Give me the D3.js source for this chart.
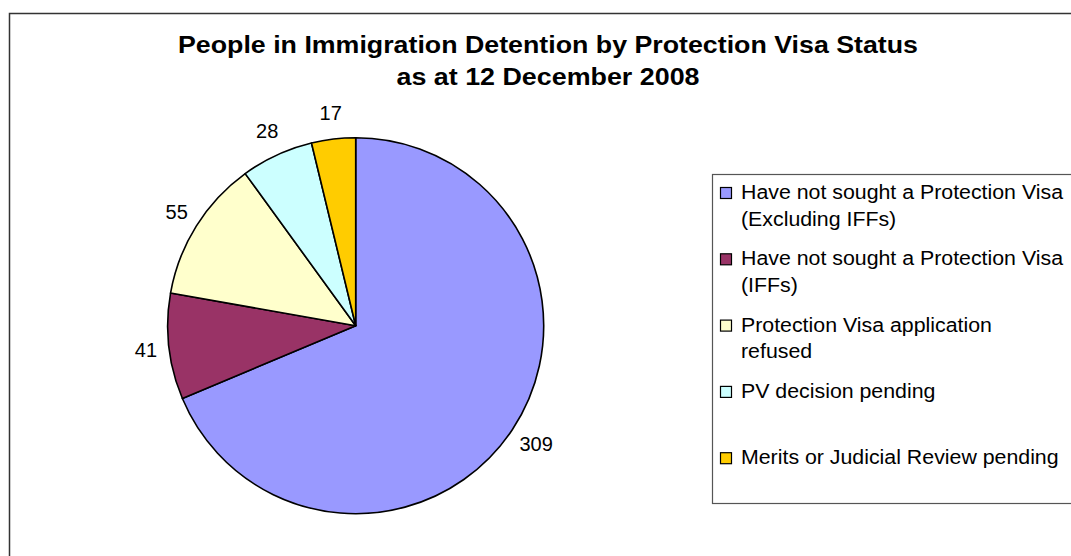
<!DOCTYPE html>
<html>
<head>
<meta charset="utf-8">
<script src="https://cdn.jsdelivr.net/npm/d3@7"></script>
<style>
  html, body { margin: 0; padding: 0; background: #fff; }
  svg { display: block; font-family: Arial, "Liberation Sans", sans-serif; }
</style>
</head>
<body>
<svg id="chart" width="1071" height="556"></svg>
<script>
const titleLines = ["People in Immigration Detention by Protection Visa Status", "as at 12 December 2008"];
const categories = [
  ["Have not sought a Protection Visa", "(Excluding IFFs)"],
  ["Have not sought a Protection Visa", "(IFFs)"],
  ["Protection Visa application", "refused"],
  ["PV decision pending", ""],
  ["Merits or Judicial Review  pending", ""]
];
const values = [309, 41, 55, 28, 17];
const colors = ["#9999FF", "#993366", "#FFFFCC", "#CCFFFF", "#FFCC00"];

const svg = d3.select("#chart");

// outer chart border (extends past the right/bottom of the view)
svg.append("rect")
  .attr("x", 9.5).attr("y", 13.5)
  .attr("width", 1100).attr("height", 600)
  .attr("fill", "#fff").attr("stroke", "#333").attr("stroke-width", 1.5);

// title
const titleWidths = [740, 303];
const titleBaselines = [53, 85];
titleLines.forEach((t, i) => {
  svg.append("text")
    .attr("x", 548).attr("y", titleBaselines[i])
    .attr("text-anchor", "middle")
    .attr("font-size", 23).attr("font-weight", "bold")
    .attr("textLength", titleWidths[i])
    .attr("lengthAdjust", "spacingAndGlyphs")
    .text(t);
});

// pie
const cx = 355.7, cy = 325.7, r = 188;
const pie = d3.pie().sort(null).value(d => d);
const arcs = pie(values);
const arc = d3.arc().innerRadius(0).outerRadius(r);
const g = svg.append("g").attr("transform", `translate(${cx},${cy})`);
g.selectAll("path").data(arcs).enter().append("path")
  .attr("d", arc)
  .attr("fill", (d, i) => colors[i])
  .attr("stroke", "#000").attr("stroke-width", 1.6)
  .attr("stroke-linejoin", "round");

// data labels outside
const gap = 12, halfH = 14;
g.selectAll("text.lbl").data(arcs).enter().append("text")
  .attr("class", "lbl")
  .attr("font-size", 20)
  .attr("text-anchor", "middle")
  .text(d => d.data)
  .each(function(d) {
    const a = (d.startAngle + d.endAngle) / 2;
    const w = this.getComputedTextLength();
    const sx = Math.sin(a), sy = -Math.cos(a);
    const px = (r + gap) * sx + sx * w / 2;
    const py = (r + gap) * sy + sy * halfH;
    d3.select(this).attr("x", px).attr("y", py + 7);
  });

// legend
const lx = 712, ly = 174;
svg.append("rect")
  .attr("x", lx + 0.5).attr("y", ly + 0.5)
  .attr("width", 420).attr("height", 329)
  .attr("fill", "#fff").attr("stroke", "#555").attr("stroke-width", 1.2);

const itemStep = 66.3, lineStep = 26.5, firstBase = 199;
const lg = svg.append("g");
categories.forEach((lines, i) => {
  const base = firstBase + itemStep * i;
  lg.append("rect")
    .attr("x", 720.5).attr("y", base - 11.5)
    .attr("width", 11).attr("height", 11)
    .attr("fill", colors[i]).attr("stroke", "#000").attr("stroke-width", 1.2);
  lines.forEach((t, j) => {
    if (!t) return;
    lg.append("text")
      .attr("class", "lgt")
      .attr("x", 741).attr("y", base + lineStep * j)
      .attr("font-size", 20)
      .text(t);
  });
});
// match the slightly wide text of the original
const ref = lg.selectAll("text.lgt").filter(function() { return this.textContent === categories[0][0]; }).node();
const k = 322 / ref.getComputedTextLength();
lg.selectAll("text.lgt").each(function() {
  const w = this.getComputedTextLength();
  d3.select(this).attr("textLength", w * k).attr("lengthAdjust", "spacingAndGlyphs");
});
</script>
</body>
</html>
